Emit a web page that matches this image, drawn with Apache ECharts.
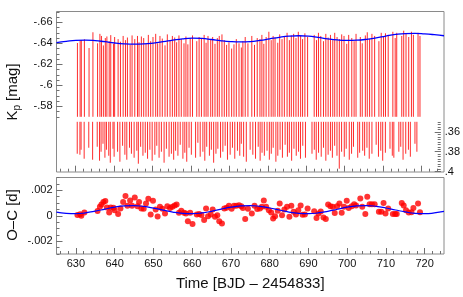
<!DOCTYPE html>
<html><head><meta charset="utf-8">
<script src="https://cdn.jsdelivr.net/npm/echarts@6/dist/echarts.min.js"></script>
<style>html,body{margin:0;padding:0;background:#fff}#c{width:463px;height:297px}</style>
</head><body><div id="c"></div>
<script>
// ---- O-C (eclipse timing) data: time [BJD-2454833], O-C in units of 1e-3 d ----
const ocTimes = [630.4,631.1,631.4,632.2,
635.6,636.2,636.6,637.1,637.6,638.0,638.6,639.0,639.7,640.0,
640.9,641.5,642.2,642.8,643.3,644.0,644.5,645.2,645.9,646.3,
646.9,647.5,648.1,648.7,649.3,649.9,650.6,651.1,651.7,652.3,
653.0,653.6,654.3,654.9,655.5,656.0,656.6,657.2,657.9,658.4,
658.9,659.5,660.1,661.2,661.8,662.4,663.1,663.6,664.1,664.8,
665.3,665.9,666.5,667.0,667.7,668.3,668.9,669.5,670.2,670.8,
671.4,672.1,672.7,673.1,673.7,674.4,
675.4,676.1,676.8,677.5,678.0,678.5,679.1,679.8,680.4,680.9,
681.4,682.1,682.6,683.2,683.8,684.5,685.1,685.6,686.2,686.8,
687.4,688.0,688.5,689.1,689.8,691.5,692.1,692.6,693.2,693.9,
694.5,695.1,695.7,696.3,696.8,697.4,698.0,698.6,699.2,699.9,
700.4,701.2,701.8,702.3,703.4,703.9,704.7,705.2,705.8,706.4,
707.1,708.2,708.8,709.4,709.9,710.6,711.8,712.4,712.8,714.1,
714.6,715.2,715.9,716.6,717.1,718.3,718.8];
const ocValues = [0.05,0.11,0.00,0.26,
0.37,0.70,0.88,1.07,1.15,0.65,0.26,0.65,0.62,0.44,
0.13,0.57,1.07,1.54,0.78,1.20,0.78,1.43,0.75,1.07,
0.57,0.55,0.96,1.33,0.10,1.17,0.50,-0.05,0.70,0.55,
0.18,0.75,0.60,0.70,0.81,0.88,0.23,0.39,0.23,0.18,
-0.44,0.23,-0.65,0.10,0.13,0.05,-0.34,0.57,-0.03,0.10,
0.50,-0.08,0.03,-0.44,-0.60,0.57,0.62,0.78,0.55,0.78,
0.78,0.83,0.75,0.60,-0.26,0.55,
0.18,0.78,0.52,0.57,0.70,1.20,0.70,0.44,0.26,-0.21,
-0.03,0.39,0.96,0.03,0.50,0.70,-0.08,0.78,0.31,0.10,
0.44,0.81,0.08,0.10,0.57,0.36,-0.18,0.18,0.34,-0.13,
-0.26,0.88,0.75,0.70,0.21,0.75,0.96,0.23,0.70,1.17,
0.60,0.75,0.91,0.81,1.36,0.70,0.13,1.49,0.91,0.91,
0.91,0.31,0.31,1.00,0.18,0.57,0.13,0.13,0.13,1.00,
0.81,0.44,0.26,0.28,0.60,0.96,0.28];

// ---- O-C model curve (units of 1e-3 d) ----
const ocModelT = [625,627.5,630,632.5,635,637.5,640,642.5,645,647.5,650,652.5,655,657.5,660,662.5,665,667.5,670,672.5,675,677.5,680,682.5,685,687.5,690,692.5,695,697.5,700,702.5,705,707.5,710,712.5,715,717.5,720,722.5,725];
const ocModelV = [0.28,0.18,0.16,0.23,0.36,0.52,0.68,0.78,0.80,0.73,0.60,0.44,0.29,0.19,0.16,0.22,0.35,0.52,0.67,0.77,0.80,0.74,0.61,0.45,0.29,0.19,0.16,0.22,0.35,0.51,0.67,0.77,0.80,0.74,0.61,0.45,0.30,0.19,0.16,0.22,0.34];

// ---- light curve: extra eclipses without O-C, and per-eclipse top / bottom magnitudes ----
const extraLcTimes = [633.4, 634.4];
const lcTops = [-0.6403,-0.6428,-0.6430,-0.6438,-0.6355,-0.6505,-0.6400,-0.6490,-0.6470,-0.6380,
-0.6450,-0.6465,-0.6420,-0.6478,-0.6395,-0.6460,-0.6440,-0.6415,-0.6470,-0.6430,
-0.6455,-0.6385,-0.6475,-0.6440,-0.6470,-0.6410,-0.6465,-0.6450,-0.6395,-0.6480,
-0.6420,-0.6460,-0.6490,-0.6400,-0.6470,-0.6445,-0.6380,-0.6485,-0.6430,-0.6470,
-0.6455,-0.6410,-0.6475,-0.6440,-0.6400,-0.6465,-0.6390,-0.6450,-0.6475,-0.6420,
-0.6460,-0.6445,-0.6480,-0.6405,-0.6470,-0.6435,-0.6460,-0.6395,-0.6450,-0.6470,
-0.6485,-0.6430,-0.6385,-0.6410,-0.6350,-0.6390,-0.6440,-0.6400,-0.6360,-0.6420,
-0.6460,-0.6400,-0.6470,-0.6385,-0.6450,-0.6440,-0.6480,-0.6395,-0.6460,-0.6510,
-0.6430,-0.6470,-0.6455,-0.6405,-0.6485,-0.6440,-0.6460,-0.6500,-0.6430,-0.6475,
-0.6490,-0.6450,-0.6510,-0.6470,-0.6440,-0.6495,-0.6460,-0.6480,-0.6430,-0.6500,
-0.6470,-0.6420,-0.6490,-0.6455,-0.6480,-0.6430,-0.6500,-0.6460,-0.6440,-0.6485,
-0.6470,-0.6395,-0.6480,-0.6450,-0.6420,-0.6490,-0.6460,-0.6400,-0.6475,-0.6505,
-0.6440,-0.6490,-0.6470,-0.6420,-0.6500,-0.6460,-0.6495,-0.6480,-0.6510,-0.6450,
-0.6500,-0.6470,-0.6520,-0.6490,-0.6460,-0.6510,-0.6480,-0.6500,-0.6470];
const lcBottoms = [0.382,0.383,0.378,0.387,0.376,0.388,0.375,0.389,0.380,0.372,
0.386,0.378,0.384,0.391,0.377,0.385,0.380,0.390,0.374,0.383,
0.388,0.376,0.382,0.386,0.379,0.392,0.375,0.384,0.381,0.387,
0.378,0.389,0.383,0.374,0.386,0.380,0.391,0.377,0.385,0.382,
0.388,0.379,0.384,0.373,0.387,0.381,0.390,0.376,0.383,0.386,
0.371,0.385,0.380,0.389,0.375,0.384,0.378,0.391,0.382,0.377,
0.386,0.380,0.374,0.388,0.383,0.376,0.387,0.379,0.384,0.372,
0.385,0.390,0.378,0.383,0.387,0.375,0.389,0.381,0.384,0.379,
0.388,0.382,0.376,0.390,0.384,0.378,0.386,0.373,0.385,0.381,
0.389,0.377,0.384,0.380,0.387,0.374,0.386,0.382,0.378,0.388,
0.381,0.385,0.376,0.389,0.383,0.379,0.386,0.374,0.384,0.397,
0.380,0.385,0.377,0.388,0.382,0.375,0.386,0.381,0.379,0.384,
0.376,0.387,0.382,0.373,0.385,0.379,0.389,0.381,0.377,0.384,
0.386,0.380,0.375,0.388,0.382,0.378,0.385,0.372,0.380];

// ---- light-curve model (mag) ----
const magModelT = [625,627.5,630,632.5,635,637.5,640,642.5,645,647.5,650,652.5,655,657.5,660,662.5,665,667.5,670,672.5,675,677.5,680,682.5,685,687.5,690,692.5,695,697.5,700,702.5,705,707.5,710,712.5,715,717.5,720,722.5,725];
const magModelV = [-0.6406,-0.6418,-0.6428,-0.6431,-0.6426,-0.6415,-0.6403,-0.6395,-0.6392,-0.6394,-0.6402,-0.6415,-0.6430,-0.6443,-0.6449,-0.6446,-0.6436,-0.6424,-0.6416,-0.6413,-0.6416,-0.6427,-0.6442,-0.6457,-0.6468,-0.6472,-0.6468,-0.6456,-0.6442,-0.6432,-0.6428,-0.6430,-0.6438,-0.6452,-0.6469,-0.6484,-0.6493,-0.6495,-0.6490,-0.6482,-0.6472];

// ---- ticks ----
const xMajorTicks = [630,640,650,660,670,680,690,700,710,720];
const xMajorLabels = ['630','640','650','660','670','680','690','700','710','720'];
const xMinorTicks = [626,628,632,634,636,638,642,644,646,648,652,654,656,658,662,664,666,668,672,674,676,678,682,684,686,688,692,694,696,698,702,704,706,708,712,714,716,718,722,724];
const magTicks = [-0.66,-0.64,-0.62,-0.60,-0.58];
const magTickLabels = ['-.66','-.64','-.62','-.6','-.58'];
const eclTicks = [0.36,0.38,0.40];
const eclTickLabels = ['.36','.38','.4'];
const ocTicks = [0.002,0,-0.002];
const ocTickLabels = ['.002','0','-.002'];

// ---- build ----
const FONT = 'Liberation Sans, Arial, Helvetica, sans-serif';
const AX = '#8a8a8a', TK = '#707070';
function lab(ticks, labels){ return v => { const i = ticks.findIndex(t => Math.abs(t - v) < 1e-9); return i >= 0 ? labels[i] : ''; }; }
const lcTimes = ocTimes.concat(extraLcTimes).sort((a,b)=>a-b);
const lcData = lcTimes.map((t,i)=>[t, lcTops[i], lcBottoms[i]]);
const ocData = ocTimes.map((t,i)=>[t, ocValues[i]/1000]);
const ocModel = ocModelT.map((t,i)=>[t, ocModelV[i]/1000]);
const magModel = magModelT.map((t,i)=>[t, magModelV[i]]);

const XMIN = 625, XMAX = 725;
const L = 56.5, R = 19;
const gridA = {left:L, right:R, top:11.8, height:105};
const gridB = {left:L, right:R, top:121.8, height:49.9};
const gridF = {left:L, right:R, top:11.5, height:160.5, show:true, borderColor:AX, borderWidth:1, backgroundColor:'transparent'};
const gridO = {left:L, right:R, top:177.5, height:76.5, show:true, borderColor:AX, borderWidth:1, backgroundColor:'transparent'};

function xAx(grid, ticks, len, extra){
  return Object.assign({type:'value', gridIndex:grid, min:XMIN, max:XMAX, position:'bottom', offset:0,
    axisLine:{show:false, onZero:false}, splitLine:{show:false},
    axisTick:{show:true, inside:true, length:len, customValues:ticks, lineStyle:{color:TK, width:1}},
    axisLabel:{show:false}}, extra||{});
}
function yAx(grid, min, max, inverse, pos, ticks, len, labelTicks, labels, interval){
  const a = {type:'value', gridIndex:grid, min:min, max:max, inverse:inverse, position:pos, offset:0,
    axisLine:{show:false, onZero:false}, splitLine:{show:false},
    axisTick:{show:true, inside:true, length:len, lineStyle:{color:TK, width:1}},
    axisLabel:{show:false}};
  if (ticks) a.axisTick.customValues = ticks;
  if (interval) a.interval = interval;
  if (labels) a.axisLabel = {show:true, customValues:labelTicks, formatter:lab(labelTicks, labels), fontFamily:FONT, fontSize:11, color:'#111', margin:4};
  return a;
}

const option = {
  animation:false,
  backgroundColor:'#fff',
  grid:[gridA, gridB, gridF, gridO],
  xAxis:[
    {type:'value', gridIndex:0, min:XMIN, max:XMAX, show:false},
    xAx(1, xMajorTicks, 6),
    xAx(1, xMinorTicks, 3),
    {type:'value', gridIndex:2, min:XMIN, max:XMAX, show:false},
    xAx(3, xMajorTicks, 6, {axisLabel:{show:true, customValues:xMajorTicks, formatter:lab(xMajorTicks, xMajorLabels), fontFamily:FONT, fontSize:11, color:'#111', margin:4},
      name:'Time [BJD \u2013 2454833]', nameLocation:'middle', nameGap:22,
      nameTextStyle:{fontFamily:FONT, fontSize:15, color:'#111'}}),
    xAx(3, xMinorTicks, 3)
  ],
  yAxis:[
    yAx(0, -0.67, -0.57, true, 'left', magTicks, 6, magTicks, magTickLabels),
    yAx(0, -0.67, -0.57, true, 'left', null, 3, null, null, 0.005),
    yAx(1, 0.35, 0.40, true, 'right', eclTicks, 6, eclTicks, eclTickLabels),
    yAx(1, 0.35, 0.40, true, 'right', null, 3, null, null, 0.0025),
    {type:'value', gridIndex:2, min:0, max:1, show:false},
    yAx(3, -0.003, 0.003, false, 'left', ocTicks, 6, ocTicks, ocTickLabels),
    yAx(3, -0.003, 0.003, false, 'left', null, 3, null, null, 0.0005)
  ],
  series:[
    {type:'custom', xAxisIndex:0, yAxisIndex:0, data:lcData, clip:false, z:2,
      renderItem:function(params, api){
        const p = api.coord([api.value(0), api.value(1)]);
        const cs = params.coordSys;
        return {type:'line', shape:{x1:p[0], y1:p[1], x2:p[0], y2:cs.y+cs.height}, style:{stroke:'rgb(255,45,45)', lineWidth:1}};
      }},
    {type:'custom', xAxisIndex:1, yAxisIndex:2, data:lcData.map(d=>[d[0], d[2]]), clip:false, z:2,
      renderItem:function(params, api){
        const p = api.coord([api.value(0), api.value(1)]);
        const cs = params.coordSys;
        return {type:'line', shape:{x1:p[0], y1:cs.y, x2:p[0], y2:p[1]}, style:{stroke:'rgb(255,45,45)', lineWidth:1}};
      }},
    {type:'line', xAxisIndex:0, yAxisIndex:0, data:magModel, smooth:true, showSymbol:false, z:5,
      lineStyle:{color:'#0000ff', width:1.3}},
    {type:'scatter', xAxisIndex:4, yAxisIndex:5, data:ocData, symbolSize:6, z:3,
      itemStyle:{color:'#ff0000'}},
    {type:'line', xAxisIndex:4, yAxisIndex:5, data:ocModel, smooth:true, showSymbol:false, z:5,
      lineStyle:{color:'#0000ff', width:1.2}}
  ],
  graphic:[
    {type:'text', x:13, y:92, rotation:Math.PI/2,
      style:{text:'{a|K}{b|p}{a| [mag]}', align:'center', verticalAlign:'middle',
        rich:{a:{fontFamily:FONT, fontSize:15, fill:'#111', lineHeight:18}, b:{fontFamily:FONT, fontSize:10, fill:'#111', lineHeight:18, padding:[9,0,0,0]}}}},
    {type:'text', x:13, y:215, rotation:Math.PI/2,
      style:{text:'O\u2013C [d]', align:'center', verticalAlign:'middle', fontFamily:FONT, fontSize:15, fill:'#111'}}
  ]
};
const chart = echarts.init(document.getElementById('c'), null, {renderer:'canvas'});
chart.setOption(option);
</script></body></html>
